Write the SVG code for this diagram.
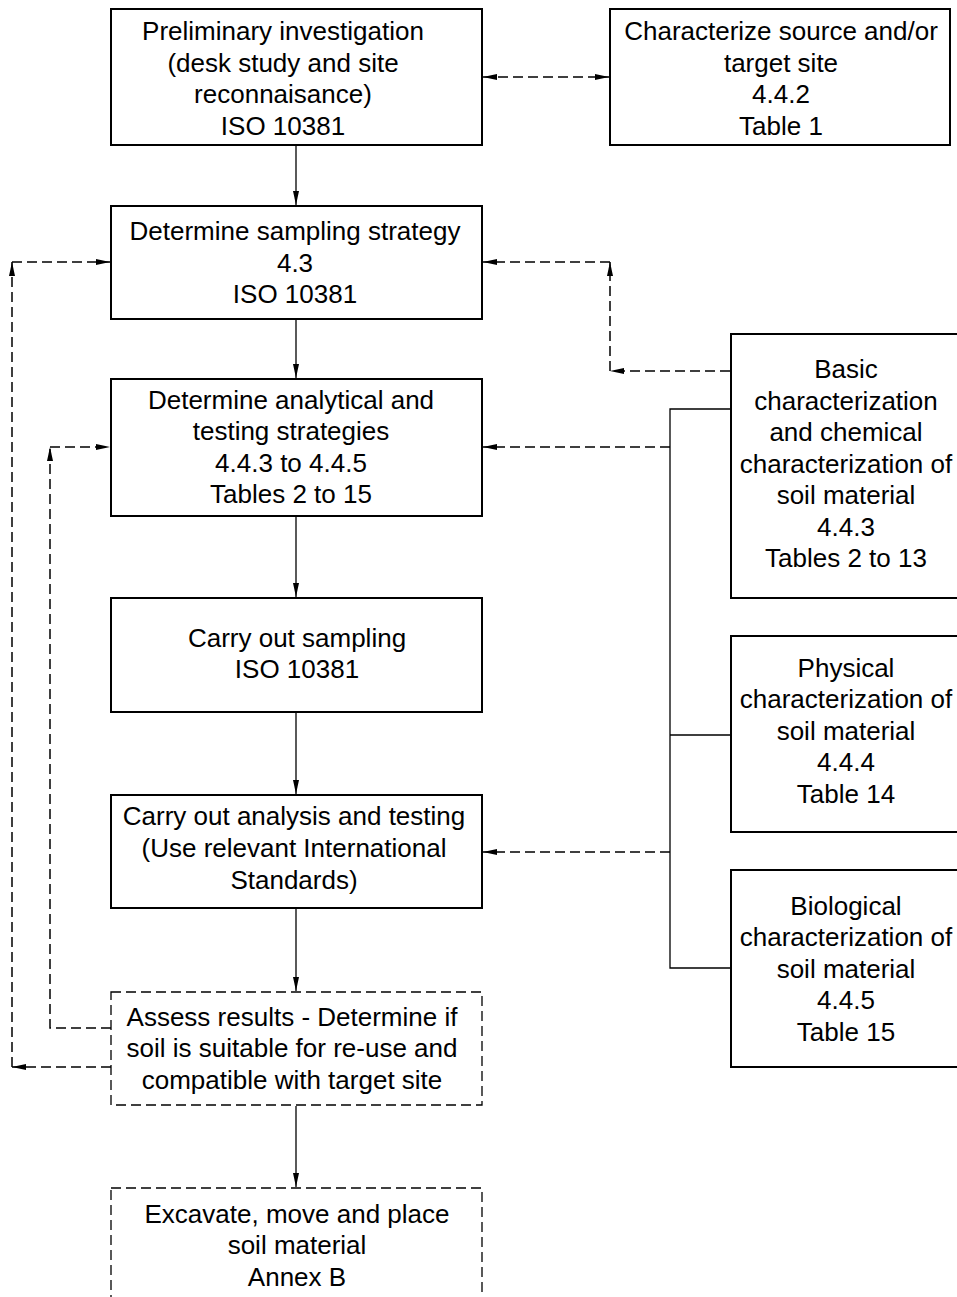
<svg xmlns="http://www.w3.org/2000/svg" width="957" height="1297" viewBox="0 0 957 1297">
<style>
.box{fill:#fff;stroke:#000;stroke-width:2}
.dbox{fill:#fff;stroke:#000;stroke-width:1.3;stroke-dasharray:10 5}
.t{font-family:"Liberation Sans",Arial,sans-serif;font-size:26px;fill:#000;text-anchor:middle}
.c{fill:none;stroke:#000;stroke-width:1.3}
.d{fill:none;stroke:#000;stroke-width:1.5;stroke-dasharray:10 5}
</style>
<defs>
<marker id="ah" viewBox="0 0 14 6" refX="14" refY="3" markerWidth="14" markerHeight="6" markerUnits="userSpaceOnUse" orient="auto">
<path d="M0,0 L14,3 L0,6 z" fill="#000"/>
</marker>
<marker id="as" viewBox="0 0 14 6" refX="14" refY="3" markerWidth="14" markerHeight="6" markerUnits="userSpaceOnUse" orient="auto-start-reverse">
<path d="M0,0 L14,3 L0,6 z" fill="#000"/>
</marker>
</defs>
<rect width="957" height="1297" fill="#fff"/>
<g id="connectors">
<line class="d" x1="483" y1="77" x2="609" y2="77" marker-start="url(#as)" marker-end="url(#ah)"/>
<line class="c" x1="296" y1="146" x2="296" y2="205" marker-end="url(#ah)"/>
<line class="c" x1="296" y1="320" x2="296" y2="378" marker-end="url(#ah)"/>
<line class="c" x1="296" y1="517" x2="296" y2="597" marker-end="url(#ah)"/>
<line class="c" x1="296" y1="713" x2="296" y2="794" marker-end="url(#ah)"/>
<line class="c" x1="296" y1="909" x2="296" y2="991" marker-end="url(#ah)"/>
<line class="c" x1="296" y1="1106" x2="296" y2="1187" marker-end="url(#ah)"/>
<path class="d" d="M730,371 L610,371" marker-end="url(#ah)"/>
<path class="d" d="M610,371 L610,262" marker-end="url(#ah)"/>
<path class="d" d="M610,262 L483,262" marker-end="url(#ah)"/>
<path class="c" d="M730,409 L670,409 L670,968 L730,968 M670,735 L730,735"/>
<path class="d" d="M670,447 L483,447" marker-end="url(#ah)"/>
<path class="d" d="M670,852 L483,852" marker-end="url(#ah)"/>
<path class="d" d="M111,1067 L12,1067" marker-end="url(#ah)"/>
<path class="d" d="M12,1067 L12,262" marker-end="url(#ah)"/>
<path class="d" d="M12,262 L110,262" marker-end="url(#ah)"/>
<path class="d" d="M111,1028 L50,1028 L50,447" marker-end="url(#ah)"/>
<path class="d" d="M50,447 L110,447" marker-end="url(#ah)"/>
</g>
<g id="n1">
<rect class="box" x="111" y="9" width="371" height="136"/>
<text class="t" x="283" y="40">Preliminary investigation</text>
<text class="t" x="283" y="72">(desk study and site</text>
<text class="t" x="283" y="103">reconnaisance)</text>
<text class="t" x="283" y="135">ISO 10381</text>
</g>
<g id="n2">
<rect class="box" x="610" y="9" width="340" height="136"/>
<text class="t" x="781" y="40">Characterize source and/or</text>
<text class="t" x="781" y="72">target site</text>
<text class="t" x="781" y="103">4.4.2</text>
<text class="t" x="781" y="135">Table 1</text>
</g>
<g id="n3">
<rect class="box" x="111" y="206" width="371" height="113"/>
<text class="t" x="295" y="240">Determine sampling strategy</text>
<text class="t" x="295" y="272">4.3</text>
<text class="t" x="295" y="303">ISO 10381</text>
</g>
<g id="n4">
<rect class="box" x="111" y="379" width="371" height="137"/>
<text class="t" x="291" y="409">Determine analytical and</text>
<text class="t" x="291" y="440">testing strategies</text>
<text class="t" x="291" y="472">4.4.3 to 4.4.5</text>
<text class="t" x="291" y="503">Tables 2 to 15</text>
</g>
<g id="n5">
<rect class="box" x="111" y="598" width="371" height="114"/>
<text class="t" x="297" y="647">Carry out sampling</text>
<text class="t" x="297" y="678">ISO 10381</text>
</g>
<g id="n6">
<rect class="box" x="111" y="795" width="371" height="113"/>
<text class="t" x="294" y="825">Carry out analysis and testing</text>
<text class="t" x="294" y="857">(Use relevant International</text>
<text class="t" x="294" y="889">Standards)</text>
</g>
<g id="n7">
<rect class="dbox" x="111" y="992" width="371" height="113"/>
<text class="t" x="292" y="1026">Assess results - Determine if</text>
<text class="t" x="292" y="1057">soil is suitable for re-use and</text>
<text class="t" x="292" y="1089">compatible with target site</text>
</g>
<g id="n8">
<rect class="dbox" x="111" y="1188" width="371" height="130"/>
<text class="t" x="297" y="1223">Excavate, move and place</text>
<text class="t" x="297" y="1254">soil material</text>
<text class="t" x="297" y="1286">Annex B</text>
</g>
<g id="n9">
<rect class="box" x="731" y="334" width="240" height="264"/>
<text class="t" x="846" y="378">Basic</text>
<text class="t" x="846" y="410">characterization</text>
<text class="t" x="846" y="441">and chemical</text>
<text class="t" x="846" y="473">characterization of</text>
<text class="t" x="846" y="504">soil material</text>
<text class="t" x="846" y="536">4.4.3</text>
<text class="t" x="846" y="567">Tables 2 to 13</text>
</g>
<g id="n10">
<rect class="box" x="731" y="636" width="240" height="196"/>
<text class="t" x="846" y="677">Physical</text>
<text class="t" x="846" y="708">characterization of</text>
<text class="t" x="846" y="740">soil material</text>
<text class="t" x="846" y="771">4.4.4</text>
<text class="t" x="846" y="803">Table 14</text>
</g>
<g id="n11">
<rect class="box" x="731" y="870" width="240" height="197"/>
<text class="t" x="846" y="915">Biological</text>
<text class="t" x="846" y="946">characterization of</text>
<text class="t" x="846" y="978">soil material</text>
<text class="t" x="846" y="1009">4.4.5</text>
<text class="t" x="846" y="1041">Table 15</text>
</g>
</svg>
